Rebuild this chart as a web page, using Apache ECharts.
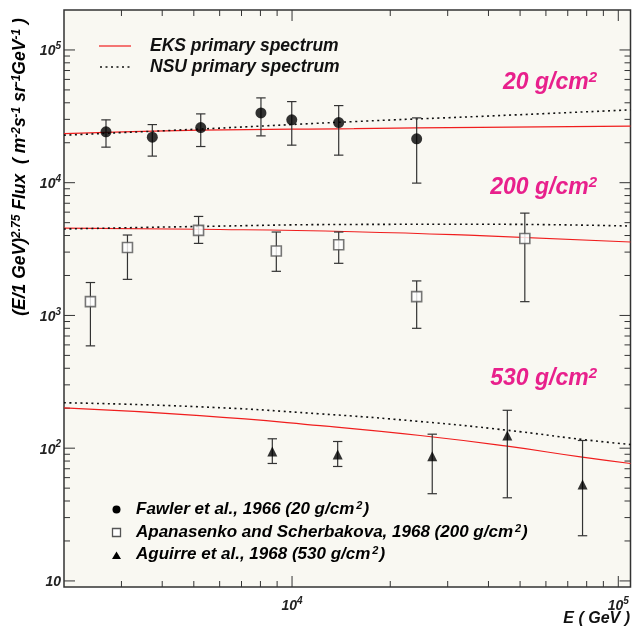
<!DOCTYPE html>
<html><head><meta charset="utf-8">
<script src="https://cdn.jsdelivr.net/npm/echarts@6/dist/echarts.min.js"></script>
<style>html,body{margin:0;padding:0;background:#fff}#c{width:634px;height:631px}</style>
</head><body><div id="c"></div>
<script>
// ---- data ----
const fawE  = [2690, 3730, 5250, 8030, 9980, 13900, 24100];
const fawF  = [24150, 22030, 26020, 33570, 29740, 28380, 21390];
const fawHi = [29740, 27410, 32990, 43540, 40830, 38100, 30780];
const fawLo = [18530, 15860, 18730, 22530, 19180, 16130, 9930];

const apaE  = [2410, 3130, 5170, 8950, 13900, 24100, 51700];
const apaF  = [1270, 3250, 4370, 3060, 3410, 1385, 3800];
const apaHi = [1770, 4035, 5570, 4250, 4250, 1820, 5900];
const apaLo = [590, 1870, 3490, 2150, 2470, 800, 1270];

const aguE  = [8700, 13800, 26900, 45700, 77700];
const aguF  = [94.5, 89.7, 87.1, 124.6, 53.3];
const aguHi = [117.7, 112.3, 127.5, 193, 114.3];
const aguLo = [76.7, 72.8, 45.4, 42.3, 21.9];

const curveE5 = [2000, 5220, 15500, 37700, 109000];
const eks20  = [23460, 24880, 25570, 26120, 26660];
const nsu20  = [22810, 25360, 28870, 31590, 35370];
const eks200 = [4555, 4461, 4272, 3987, 3574];
const nsu200 = [4477, 4682, 4848, 4864, 4715];
const curveE7 = [2000, 5220, 12190, 24700, 45650, 77550, 109000];
const eks530 = [201, 176, 148, 124.6, 103.5, 85.6, 76.7];
const nsu530 = [220, 205, 181.5, 158.8, 136.6, 116.3, 106.6];

const X_MIN = 2000, X_MAX = 109000, Y_MIN = 9, Y_MAX = 200000;
const xTicks = [], yTicks = [];
for (let d = 3; d <= 5; d++) for (let m = 1; m <= 9; m++) { const v = m * Math.pow(10, d); if (v > X_MIN && v < X_MAX) xTicks.push(v); }
for (let d = 0; d <= 5; d++) for (let m = 1; m <= 9; m++) { const v = m * Math.pow(10, d); if (v > Y_MIN && v < Y_MAX) yTicks.push(v); }

const FONT = '"Liberation Sans", Arial, sans-serif';
const PINK = '#e8208c';
const RED = '#f01e1e';

const zip = (a, b) => a.map((v, i) => [v, b[i]]);
const zip3 = (a, b, c) => a.map((v, i) => [v, b[i], c[i]]);

function isPow(v) { const e = Math.log10(v); return Math.abs(e - Math.round(e)) < 1e-6; }
function powLabel(v) {
  if (!isPow(v)) return '';
  const r = Math.round(Math.log10(v));
  if (r === 1) return '{b|10}';
  return '{b|10}{s|' + r + '}';
}
const labelRich = {
  b: {fontSize: 14, fontWeight: 'bold', fontStyle: 'italic', fontFamily: FONT, color: '#222', lineHeight: 17, verticalAlign: 'bottom'},
  s: {fontSize: 10, fontWeight: 'bold', fontStyle: 'italic', fontFamily: FONT, color: '#222', lineHeight: 10, verticalAlign: 'top'}
};

function tickRender(isX) {
  return function (params, api) {
    const v = api.value(isX ? 0 : 1);
    const len = isPow(v) ? 11 : 6;
    const st = {stroke: '#333', lineWidth: 1};
    if (isX) {
      const a = api.coord([v, Y_MIN]), b = api.coord([v, Y_MAX]);
      return {type: 'group', children: [
        {type: 'line', shape: {x1: a[0], y1: a[1], x2: a[0], y2: a[1] - len}, style: st},
        {type: 'line', shape: {x1: b[0], y1: b[1], x2: b[0], y2: b[1] + len}, style: st}]};
    } else {
      const a = api.coord([X_MIN, v]), b = api.coord([X_MAX, v]);
      return {type: 'group', children: [
        {type: 'line', shape: {x1: a[0], y1: a[1], x2: a[0] + len, y2: a[1]}, style: st},
        {type: 'line', shape: {x1: b[0], y1: b[1], x2: b[0] - len, y2: b[1]}, style: st}]};
    }
  };
}
function errRender(params, api) {
  const x = api.value(0);
  const lo = api.coord([x, api.value(1)]), hi = api.coord([x, api.value(2)]);
  const w = 4.7, st = {stroke: '#333', lineWidth: 1.2};
  return {type: 'group', children: [
    {type: 'line', shape: {x1: lo[0], y1: lo[1], x2: hi[0], y2: hi[1]}, style: st},
    {type: 'line', shape: {x1: lo[0] - w, y1: lo[1], x2: lo[0] + w, y2: lo[1]}, style: st},
    {type: 'line', shape: {x1: hi[0] - w, y1: hi[1], x2: hi[0] + w, y2: hi[1]}, style: st}]};
}

const textBase = {fontFamily: FONT, fontWeight: 'bold', fontStyle: 'italic'};
function supText(x, y, main, sup, size, supSize, color, align) {
  return {type: 'text', x: x, y: y, silent: true, style: {
    text: '{a|' + main + '}{s|' + sup + '}', align: align || 'left', verticalAlign: 'middle',
    rich: {
      a: Object.assign({}, textBase, {fontSize: size, fill: color, color: color, lineHeight: size + 1, verticalAlign: 'bottom'}),
      s: Object.assign({}, textBase, {fontSize: supSize, fill: color, color: color, lineHeight: supSize, verticalAlign: 'top'})
    }}};
}
function legendRow(y, label, sup, tail) {
  return {type: 'text', x: 136, y: y, silent: true, style: {
    text: '{a|' + label + '}{s|' + sup + '}{a|' + tail + '}', align: 'left', verticalAlign: 'middle',
    rich: {
      a: Object.assign({}, textBase, {fontSize: 17, color: '#111', lineHeight: 18, verticalAlign: 'bottom'}),
      s: Object.assign({}, textBase, {fontSize: 11, color: '#111', lineHeight: 11, verticalAlign: 'top', padding: [0, 1, 0, 2]})
    }}};
}

const chart = echarts.init(document.getElementById('c'), null, {renderer: 'canvas'});
const supStyle = Object.assign({}, textBase, {fontSize: 12, color: '#111', lineHeight: 12, verticalAlign: 'top'});
const baseStyle = Object.assign({}, textBase, {fontSize: 17.5, color: '#111', lineHeight: 18, verticalAlign: 'bottom'});

chart.setOption({
  animation: false,
  backgroundColor: '#ffffff',
  grid: {left: 64, top: 10, width: 566.5, height: 577, show: true, backgroundColor: '#f9f8f2', borderColor: '#333', borderWidth: 1.5},
  xAxis: {type: 'log', logBase: 10, min: X_MIN, max: X_MAX,
    axisLine: {show: false}, axisTick: {show: false}, splitLine: {show: false},
    axisLabel: {formatter: powLabel, rich: labelRich, margin: 9, showMinLabel: false, showMaxLabel: false}},
  yAxis: {type: 'log', logBase: 10, min: Y_MIN, max: Y_MAX,
    axisLine: {show: false}, axisTick: {show: false}, splitLine: {show: false},
    axisLabel: {formatter: powLabel, rich: labelRich, margin: 3, showMinLabel: false, showMaxLabel: false}},
  series: [
    {type: 'custom', renderItem: tickRender(true), data: xTicks.map(v => [v, Y_MIN]), silent: true, z: 1},
    {type: 'custom', renderItem: tickRender(false), data: yTicks.map(v => [X_MIN, v]), silent: true, z: 1},
    {type: 'line', data: zip(curveE5, eks20), smooth: true, showSymbol: false, lineStyle: {color: RED, width: 1.2}, z: 2},
    {type: 'line', data: zip(curveE5, nsu20), smooth: true, showSymbol: false, lineStyle: {color: '#111', width: 1.6, type: [2, 3.5]}, z: 2},
    {type: 'line', data: zip(curveE5, eks200), smooth: true, showSymbol: false, lineStyle: {color: RED, width: 1.2}, z: 2},
    {type: 'line', data: zip(curveE5, nsu200), smooth: true, showSymbol: false, lineStyle: {color: '#111', width: 1.6, type: [2, 3.5]}, z: 2},
    {type: 'line', data: zip(curveE7, eks530), smooth: true, showSymbol: false, lineStyle: {color: RED, width: 1.2}, z: 2},
    {type: 'line', data: zip(curveE7, nsu530), smooth: true, showSymbol: false, lineStyle: {color: '#111', width: 1.6, type: [2, 3.5]}, z: 2},
    {type: 'custom', renderItem: errRender, data: zip3(fawE, fawLo, fawHi), encode: {x: 0, y: [1, 2]}, silent: true, z: 3},
    {type: 'custom', renderItem: errRender, data: zip3(apaE, apaLo, apaHi), encode: {x: 0, y: [1, 2]}, silent: true, z: 3},
    {type: 'custom', renderItem: errRender, data: zip3(aguE, aguLo, aguHi), encode: {x: 0, y: [1, 2]}, silent: true, z: 3},
    {type: 'scatter', data: zip(fawE, fawF), symbol: 'circle', symbolSize: 11, itemStyle: {color: '#000'}, z: 4},
    {type: 'scatter', data: zip(apaE, apaF), symbol: 'rect', symbolSize: 10, itemStyle: {color: '#fff', borderColor: '#555', borderWidth: 1.6}, z: 4},
    {type: 'scatter', data: zip(aguE, aguF), symbol: 'triangle', symbolSize: [10, 10], itemStyle: {color: '#000'}, z: 4}
  ],
  graphic: [
    // top legend
    {type: 'line', shape: {x1: 99, y1: 46, x2: 131, y2: 46}, style: {stroke: RED, lineWidth: 1.2}, z: 10},
    {type: 'line', shape: {x1: 100, y1: 67, x2: 132, y2: 67}, style: {stroke: '#111', lineWidth: 1.6, lineDash: [2, 3.5]}, z: 10},
    {type: 'text', x: 150, y: 46, style: Object.assign({}, textBase, {text: 'EKS primary spectrum', fontSize: 17.5, fill: '#111', verticalAlign: 'middle'}), z: 10},
    {type: 'text', x: 150, y: 67, style: Object.assign({}, textBase, {text: 'NSU primary spectrum', fontSize: 17.5, fill: '#111', verticalAlign: 'middle'}), z: 10},
    // depth labels
    Object.assign(supText(597, 82, '20 g/cm', '2', 23, 15, PINK, 'right'), {z: 10}),
    Object.assign(supText(597, 187, '200 g/cm', '2', 23, 15, PINK, 'right'), {z: 10}),
    Object.assign(supText(597, 378, '530 g/cm', '2', 23, 15, PINK, 'right'), {z: 10}),
    // bottom legend markers
    {type: 'circle', shape: {cx: 116.5, cy: 509.5, r: 4}, style: {fill: '#000'}, z: 10},
    {type: 'rect', shape: {x: 112.5, y: 528.5, width: 8, height: 8}, style: {fill: '#fff', stroke: '#555', lineWidth: 1.3}, z: 10},
    {type: 'polygon', shape: {points: [[116.5, 551.5], [121, 559], [112, 559]]}, style: {fill: '#000'}, z: 10},
    Object.assign(legendRow(509, 'Fawler et al., 1966 (20 g/cm', '2', ')'), {z: 10}),
    Object.assign(legendRow(532, 'Apanasenko and Scherbakova, 1968 (200 g/cm', '2', ')'), {z: 10}),
    Object.assign(legendRow(554, 'Aguirre et al., 1968 (530 g/cm', '2', ')'), {z: 10}),
    // axis titles
    {type: 'text', x: 630, y: 619, style: Object.assign({}, textBase, {text: 'E ( GeV )', fontSize: 16, fill: '#111', align: 'right', verticalAlign: 'middle'}), z: 10},
    {type: 'text', x: 20, y: 167, rotation: Math.PI / 2, z: 10, style: {
      text: '{a|(E/1 GeV)}{s|2.75}{a| Flux  ( m}{s|-2}{a|s}{s|-1}{a| sr}{s|-1}{a|GeV}{s|-1}{a| )}',
      align: 'center', verticalAlign: 'middle',
      rich: {a: baseStyle, s: supStyle}}}
  ]
});
</script></body></html>
